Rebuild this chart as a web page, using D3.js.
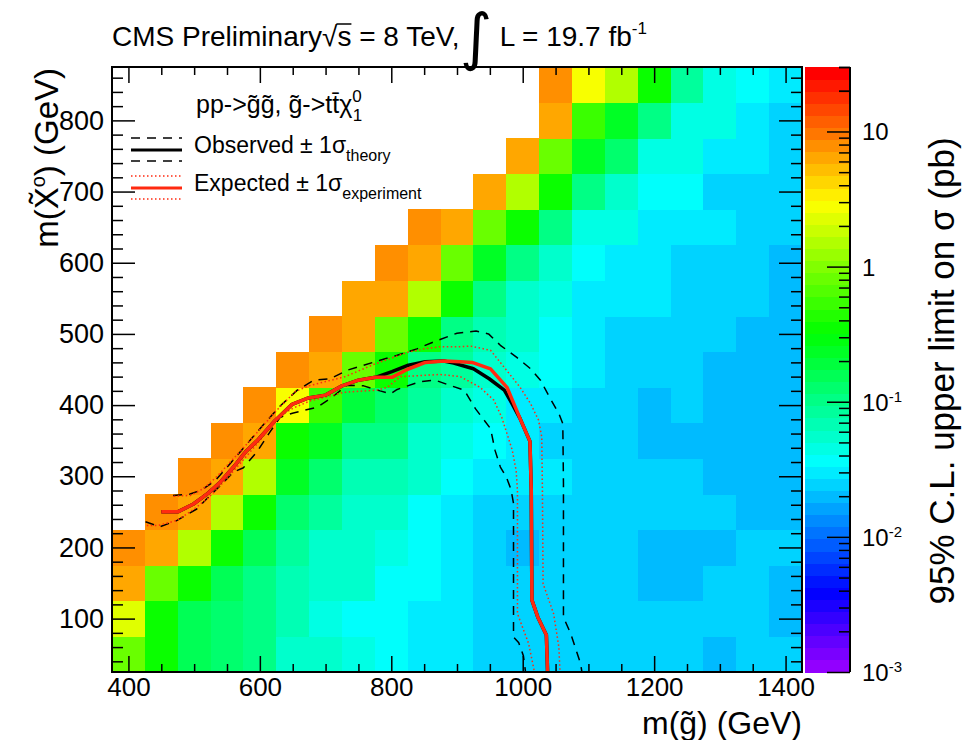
<!DOCTYPE html>
<html>
<head>
<meta charset="utf-8">
<script src="https://cdn.jsdelivr.net/npm/d3@7"></script>
<style>
  body { margin: 0; background: #fff; }
  text { font-family: "Liberation Sans", Arial, Helvetica, sans-serif; fill: #000; }
</style>
</head>
<body>
<svg id="chart" width="968" height="740"></svg>
<script>
// gluino mass bins (GeV) and LSP mass bins (GeV)
const mGluino = [400, 450, 500, 550, 600, 650, 700, 750, 800, 850, 900, 950, 1000,
                 1050, 1100, 1150, 1200, 1250, 1300, 1350, 1400]
const mLSP = [50, 100, 150, 200, 250, 300, 350, 400, 450, 500, 550, 600, 650, 700, 750, 800, 850]

// 95% CL upper limit on sigma (pb), one row per LSP mass, one value per gluino bin
const row50  = [0.81, 0.36, 0.155, 0.135, 0.104, 0.056, 0.056, 0.046, 0.037, 0.030, 0.030, 0.0245, 0.0245, 0.0245, 0.0245, 0.0245, 0.0245, 0.0245, 0.020, 0.0245, 0.0245]
const row100 = [2.3, 0.36, 0.155, 0.135, 0.104, 0.069, 0.046, 0.037, 0.037, 0.030, 0.030, 0.0245, 0.0245, 0.0245, 0.0245, 0.0245, 0.0245, 0.0245, 0.0245, 0.0245, 0.020]
const row150 = [6.4, 0.81, 0.36, 0.155, 0.104, 0.069, 0.056, 0.056, 0.037, 0.037, 0.030, 0.0245, 0.0245, 0.0245, 0.0245, 0.0245, 0.020, 0.020, 0.0245, 0.0245, 0.020]
const row200 = [7.9, 6.4, 1.4, 0.36, 0.155, 0.085, 0.056, 0.056, 0.046, 0.037, 0.030, 0.0245, 0.020, 0.0245, 0.0245, 0.0245, 0.020, 0.020, 0.020, 0.0245, 0.0245]
const row250 = [null, 7.9, 6.4, 1.4, 0.36, 0.135, 0.085, 0.056, 0.056, 0.037, 0.030, 0.0245, 0.0245, 0.0245, 0.0245, 0.0245, 0.0245, 0.0245, 0.0245, 0.020, 0.020]
const row300 = [null, null, 7.9, 6.4, 1.4, 0.24, 0.135, 0.069, 0.069, 0.056, 0.037, 0.030, 0.030, 0.030, 0.0245, 0.0245, 0.0245, 0.0245, 0.020, 0.020, 0.020]
const row350 = [null, null, null, 7.9, 6.4, 0.36, 0.24, 0.104, 0.104, 0.056, 0.046, 0.037, 0.030, 0.0245, 0.0245, 0.0245, 0.020, 0.020, 0.020, 0.020, 0.020]
const row400 = [null, null, null, null, 7.9, 2.8, 0.54, 0.19, 0.135, 0.085, 0.056, 0.046, 0.030, 0.030, 0.0245, 0.0245, 0.020, 0.0245, 0.020, 0.020, 0.020]
const row450 = [null, null, null, null, null, 7.9, 6.4, 0.81, 0.36, 0.104, 0.085, 0.056, 0.046, 0.037, 0.030, 0.0245, 0.0245, 0.0245, 0.020, 0.020, 0.020]
const row500 = [null, null, null, null, null, null, 7.9, 6.4, 0.81, 0.36, 0.104, 0.069, 0.056, 0.037, 0.030, 0.0245, 0.0245, 0.0245, 0.0245, 0.020, 0.020]
const row550 = [null, null, null, null, null, null, null, 6.4, 6.4, 1.4, 0.36, 0.104, 0.056, 0.046, 0.030, 0.030, 0.030, 0.0245, 0.0245, 0.0245, 0.020]
const row600 = [null, null, null, null, null, null, null, null, 7.9, 6.4, 0.81, 0.24, 0.104, 0.056, 0.037, 0.030, 0.030, 0.0245, 0.0245, 0.0245, 0.020]
const row650 = [null, null, null, null, null, null, null, null, null, 7.9, 6.4, 0.81, 0.36, 0.104, 0.046, 0.046, 0.030, 0.030, 0.030, 0.0245, 0.0245]
const row700 = [null, null, null, null, null, null, null, null, null, null, null, 6.4, 1.4, 0.36, 0.104, 0.056, 0.037, 0.037, 0.0245, 0.0245, 0.0245]
const row750 = [null, null, null, null, null, null, null, null, null, null, null, null, 6.4, 0.81, 0.24, 0.135, 0.046, 0.046, 0.030, 0.030, 0.0245]
const row800 = [null, null, null, null, null, null, null, null, null, null, null, null, null, 6.4, 0.54, 0.24, 0.104, 0.046, 0.046, 0.030, 0.0245]
const row850 = [null, null, null, null, null, null, null, null, null, null, null, null, null, 7.9, 2.8, 1.4, 0.36, 0.085, 0.046, 0.037, 0.030]
const limitRows = [row50, row100, row150, row200, row250, row300, row350, row400, row450,
                   row500, row550, row600, row650, row700, row750, row800, row850]

// exclusion contours, [m(gluino), m(LSP)] in GeV
const observed = [[450,250],[475,250],[499,261],[521,276],[540,292],[560,313],[578,334],[598,352],[623,378],[649,401],[674,410],[700,414],[725,427],[750,435],[776,439],[801,447],[826,456],[852,461],[880,462],[895,459],[925,451],[949,437],[972,421],[985,400],[996,381],[1011,349],[1013,280],[1014,126],[1023,102],[1036,77],[1038,20]]
const observedUp = [[468,273],[494,275],[512,281],[532,294],[555,318],[580,345],[605,372],[630,398],[657,421],[682,435],[707,437],[733,449],[758,456],[783,463],[809,470],[839,479],[865,489],[900,501],[929,504],[948,500],[966,484],[991,467],[1012,451],[1027,435],[1042,409],[1055,388],[1061,374],[1062,290],[1062,102],[1073,79],[1088,37],[1091,20]]
const observedDown = [[426,236],[448,229],[474,238],[504,254],[520,269],[540,287],[560,306],[575,312],[596,335],[616,363],[631,383],[651,389],[687,397],[707,409],[733,428],[758,427],[783,420],[799,416],[809,422],[844,433],[867,435],[885,429],[911,421],[928,395],[951,367],[958,336],[966,313],[975,299],[982,282],[986,262],[986,74],[994,66],[1001,48],[1005,20]]
const expected = [[450,250],[475,250],[499,261],[521,276],[540,292],[560,313],[578,334],[598,352],[623,378],[649,401],[674,410],[700,414],[725,427],[750,435],[776,439],[801,439],[824,450],[852,460],[880,462],[905,461],[923,460],[951,451],[976,425],[996,381],[1011,349],[1013,280],[1014,126],[1023,102],[1036,77],[1038,20]]
const expectedUp = [[469,272],[494,273],[515,283],[535,300],[558,323],[580,345],[603,369],[628,395],[654,419],[674,427],[700,433],[730,440],[773,457],[800,466],[824,474],[850,479],[874,482],[905,482],[920,483],[951,477],[971,454],[996,425],[1012,402],[1024,379],[1029,355],[1030,280],[1031,149],[1047,107],[1055,60],[1057,20]]
const expectedDown = [[428,231],[446,231],[474,238],[500,254],[522,270],[545,292],[570,318],[600,350],[626,382],[651,396],[677,406],[703,412],[728,418],[778,421],[794,425],[814,440],[854,442],[874,443],[905,440],[935,425],[956,407],[968,383],[976,360],[984,337],[990,308],[992,280],[992,107],[1009,65],[1019,20]]

// axis ticks and labels
const xMajor = [400, 600, 800, 1000, 1200, 1400]
const yMajor = [100, 200, 300, 400, 500, 600, 700, 800]
const zMajor = [0.001, 0.01, 0.1, 1, 10]
const zLabels = [['10', '-3'], ['10', '-2'], ['10', '-1'], ['1', ''], ['10', '']]
const zMin = 0.001, zMax = 30

const plot = { left: 112, right: 802, top: 67, bottom: 672 }
const bar = { left: 805, right: 850 }

const svg = d3.select('#chart')

const x = d3.scaleLinear().domain([375, 1425]).range([plot.left, plot.right])
const y = d3.scaleLinear().domain([25, 875]).range([plot.bottom, plot.top])
const z = d3.scaleLog().domain([zMin, zMax]).range([plot.bottom, plot.top])

// ROOT "pretty" palette: 50 hues violet -> red, log z contours
const nColors = 50
const palette = d3.range(nColors).map(i => d3.hsl(280 - (i + 1) * 5.6, 1, 0.5).formatHex())
const level = d3.scaleLinear().domain([Math.log10(zMin), Math.log10(zMax)]).range([0, nColors])
const colorOf = v => palette[Math.max(0, Math.min(nColors - 1, Math.floor(level(Math.log10(v)))))]

//heat map cells
const half = (mGluino[1] - mGluino[0]) / 2
const cells = []
limitRows.forEach((row, j) => row.forEach((v, i) => {
    if (v != null) cells.push({ mg: mGluino[i], ml: mLSP[j], v })
}))

svg.append('g')
    .attr('shape-rendering', 'crispEdges')
  .selectAll('rect')
  .data(cells)
  .join('rect')
    .attr('x', d => x(d.mg - half))
    .attr('y', d => y(d.ml + half))
    .attr('width', d => x(d.mg + half) - x(d.mg - half) + 0.5)
    .attr('height', d => y(d.ml - half) - y(d.ml + half) + 0.5)
    .attr('fill', d => colorOf(d.v))

//contours
svg.append('clipPath').attr('id', 'clip')
  .append('rect')
    .attr('x', plot.left).attr('y', plot.top)
    .attr('width', plot.right - plot.left).attr('height', plot.bottom - plot.top)

const line = d3.line().x(d => x(d[0])).y(d => y(d[1]))
const curves = svg.append('g').attr('clip-path', 'url(#clip)').attr('fill', 'none')

const styles = [
    { data: observedUp, stroke: '#000', width: 1.5, dash: '9,7' },
    { data: observedDown, stroke: '#000', width: 1.5, dash: '9,7' },
    { data: expectedUp, stroke: '#ff2a10', width: 1.5, dash: '1.5,2.5' },
    { data: expectedDown, stroke: '#ff2a10', width: 1.5, dash: '1.5,2.5' },
    { data: observed, stroke: '#000', width: 3.5, dash: null },
    { data: expected, stroke: '#ff2a10', width: 3.5, dash: null }
]
styles.forEach(s => {
    curves.append('path')
        .attr('d', line(s.data))
        .attr('stroke', s.stroke)
        .attr('stroke-width', s.width)
        .attr('stroke-dasharray', s.dash)
        .attr('stroke-linejoin', 'round')
})

//axes
const minorX = d3.range(400, 1425, 50).filter(v => !xMajor.includes(v))
const minorY = d3.range(40, 875, 20).filter(v => !yMajor.includes(v))

const addAxis = (axis, tx, ty, fs = 27) => svg.append('g')
    .attr('transform', `translate(${tx},${ty})`)
    .call(axis)
    .call(g => g.select('.domain').remove())
    .call(g => g.selectAll('.tick line').attr('stroke', '#000').attr('stroke-width', 1.5))
    .call(g => g.selectAll('.tick text').attr('font-size', fs).attr('font-family', '"Liberation Sans", Arial, sans-serif'))

addAxis(d3.axisBottom(x).tickValues(xMajor).tickSize(-16).tickPadding(6).tickFormat(d3.format('d')), 0, plot.bottom, 26)
addAxis(d3.axisBottom(x).tickValues(minorX).tickSize(-8).tickFormat(''), 0, plot.bottom)
addAxis(d3.axisTop(x).tickValues(xMajor).tickSize(-16).tickFormat(''), 0, plot.top)
addAxis(d3.axisTop(x).tickValues(minorX).tickSize(-8).tickFormat(''), 0, plot.top)
addAxis(d3.axisLeft(y).tickValues(yMajor).tickSize(-23).tickPadding(8), plot.left, 0)
addAxis(d3.axisLeft(y).tickValues(minorY).tickSize(-11).tickFormat(''), plot.left, 0)
addAxis(d3.axisRight(y).tickValues(yMajor).tickSize(-23).tickFormat(''), plot.right, 0)
addAxis(d3.axisRight(y).tickValues(minorY).tickSize(-11).tickFormat(''), plot.right, 0)

svg.append('rect')
    .attr('x', plot.left).attr('y', plot.top)
    .attr('width', plot.right - plot.left).attr('height', plot.bottom - plot.top)
    .attr('fill', 'none').attr('stroke', '#000').attr('stroke-width', 2)

//color bar
const bandH = (plot.bottom - plot.top) / nColors
svg.append('g')
    .attr('shape-rendering', 'crispEdges')
  .selectAll('rect')
  .data(palette)
  .join('rect')
    .attr('x', bar.left)
    .attr('y', (d, i) => plot.bottom - (i + 1) * bandH)
    .attr('width', bar.right - bar.left)
    .attr('height', bandH + 0.5)
    .attr('fill', d => d)

const zMinor = z.ticks().filter(v => !zMajor.includes(v)).concat([20, 30])
addAxis(d3.axisRight(z).tickValues(zMinor).tickSize(-11).tickFormat(''), bar.right, 0)
const zg = addAxis(d3.axisRight(z).tickValues(zMajor).tickSize(-23).tickFormat(''), bar.right, 0)
zg.selectAll('.tick').each(function (d, i) {
    const t = d3.select(this).append('text')
        .attr('x', 12).attr('dy', '0.35em')
        .attr('font-size', 24).attr('text-anchor', 'start')
    t.append('tspan').text(zLabels[i][0])
    if (zLabels[i][1]) t.append('tspan').attr('dy', -9).attr('font-size', 15).text(zLabels[i][1])
})
svg.append('line')
    .attr('x1', bar.right).attr('x2', bar.right)
    .attr('y1', plot.top).attr('y2', plot.bottom)
    .attr('stroke', '#000').attr('stroke-width', 2)

//axis titles
svg.append('text')
    .attr('x', plot.right).attr('y', 734)
    .attr('text-anchor', 'end').attr('font-size', 32)
    .text('m(g\u0303) (GeV)')

const yTitle = svg.append('text')
    .attr('transform', `translate(58, ${plot.top + 1}) rotate(-90)`)
    .attr('text-anchor', 'end').attr('font-size', 33)
yTitle.append('tspan').text('m(X\u0303')
yTitle.append('tspan').attr('dy', -13).attr('font-size', 20).text('o')
yTitle.append('tspan').attr('dy', 13).text(') (GeV)')

svg.append('text')
    .attr('transform', 'translate(954, 371) rotate(-90)')
    .attr('text-anchor', 'middle').attr('font-size', 35)
    .text('95% C.L. upper limit on \u03c3 (pb)')

//title
const title = svg.append('text').attr('x', plot.left).attr('y', 46).attr('font-size', 28)
title.append('tspan').text('CMS Preliminary')
title.append('tspan').text('\u221as')
title.append('tspan').text(' = 8 TeV,')
title.append('tspan').attr('font-size', 62).attr('dy', 12).attr('font-family', '"DejaVu Sans"').text('\u222b')
title.append('tspan').attr('dy', -12).text(' L = 19.7 fb')
title.append('tspan').attr('dy', -12).attr('font-size', 17).text('-1')

// overline over the s of the square root
const tn = title.node()
const sIdx = 'CMS Preliminary\u221a'.length
const sBox = tn.getExtentOfChar(sIdx)
svg.append('line')
    .attr('x1', sBox.x - 1).attr('x2', sBox.x + sBox.width)
    .attr('y1', 24).attr('y2', 24)
    .attr('stroke', '#000').attr('stroke-width', 1.5)

//legend
const legend = svg.append('g')
const proc = legend.append('text').attr('x', 196).attr('y', 113).attr('font-size', 25)
proc.append('tspan').text('pp->g\u0303g\u0303, g\u0303->tt\u0304\u03c7')
proc.append('tspan').attr('dy', -11).attr('font-size', 17).text('0')
proc.append('tspan').attr('dx', -9).attr('dy', 19).attr('font-size', 17).text('1')

const legendRows = [
    { label: 'Observed \u00b1 1\u03c3', sub: 'theory', y: 150, color: '#000', dash: '9,7' },
    { label: 'Expected \u00b1 1\u03c3', sub: 'experiment', y: 188, color: '#ff2a10', dash: '1.5,2.5' }
]
legendRows.forEach(r => {
    legend.append('line')
        .attr('x1', 131).attr('x2', 182).attr('y1', r.y).attr('y2', r.y)
        .attr('stroke', r.color).attr('stroke-width', 3)
    ;[-12, 11].forEach(off => legend.append('line')
        .attr('x1', 131).attr('x2', 182).attr('y1', r.y + off).attr('y2', r.y + off)
        .attr('stroke', r.color).attr('stroke-width', 1.5).attr('stroke-dasharray', r.dash))
    const t = legend.append('text').attr('x', 194).attr('y', r.y + 3).attr('font-size', 23)
    t.append('tspan').text(r.label)
    t.append('tspan').attr('dy', 8).attr('font-size', 16).text(r.sub)
})
</script>
</body>
</html>
